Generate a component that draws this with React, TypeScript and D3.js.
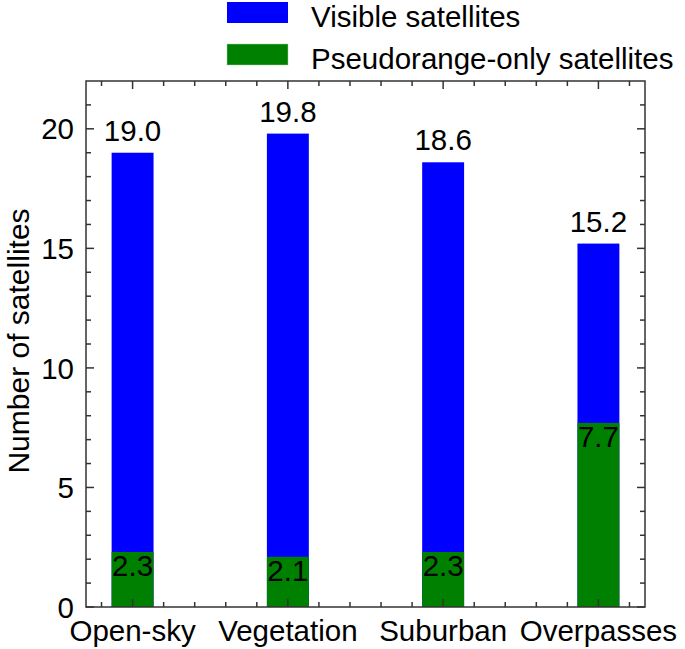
import React from "react";
import * as d3 from "d3";

const categories = ["Open-sky", "Vegetation", "Suburban", "Overpasses"];
const visible = [19.0, 19.8, 18.6, 15.2];
const pseudorangeOnly = [2.3, 2.1, 2.3, 7.7];
const yTicks = [0, 5, 10, 15, 20];
const legendLabels = ["Visible satellites", "Pseudorange-only satellites"];
const colors = ["#0000ff", "#008000"];

const W = 685;
const H = 649;
const m = { left: 86, right: 40, top: 81, bottom: 42 };
const FONT = "'Liberation Sans', Arial, sans-serif";
const FS = 29.5;

export default function App() {
  const x = d3.scaleLinear().domain([-0.3, 3.3]).range([m.left, W - m.right]);
  const y = d3.scaleLinear().domain([0, 22]).range([H - m.bottom, m.top]);
  const barW = x(0.27) - x(0);
  const axisColor = "#333";
  const majorLen = 8;
  const minorLen = 5;

  const xMinor = d3.range(-2, 33).map((i) => i / 10).filter((v) => Math.round(v * 10) % 2 === 0 && Math.abs(v - Math.round(v)) > 1e-6);
  const xMajor = categories.map((_, i) => i);
  const yMinor = d3.range(1, 22).filter((v) => v % 5 !== 0);

  const x0 = x.range()[0], x1 = x.range()[1];
  const y0 = y.range()[0], y1 = y.range()[1];

  return (
    <svg width={W} height={H} style={{ position: "absolute", left: 0, top: 0, background: "#fff" }} fontFamily={FONT}>
      {/* legend */}
      {legendLabels.map((l, i) => (
        <g key={l}>
          <rect x={227} y={2 + i * 42} width={61} height={21} fill={colors[i]} stroke="#9fd39f" strokeOpacity={i === 1 ? 0.6 : 0} strokeWidth={0.8} />
          <text x={311} y={26.5 + i * 42} fontSize={FS} fill="#000">{l}</text>
        </g>
      ))}

      {/* bars */}
      {categories.map((c, i) => (
        <g key={c}>
          <rect x={x(i) - barW / 2} y={y(visible[i])} width={barW} height={y(0) - y(visible[i])} fill={colors[0]} />
          <rect x={x(i) - barW / 2} y={y(pseudorangeOnly[i])} width={barW} height={y(0) - y(pseudorangeOnly[i])} fill={colors[1]} />
          <text x={x(i)} y={y(visible[i]) - 12} textAnchor="middle" fontSize={FS} fill="#000">{visible[i].toFixed(1)}</text>
          <text x={x(i)} y={y(pseudorangeOnly[i]) + 24} textAnchor="middle" fontSize={FS} fill="#000">{pseudorangeOnly[i].toFixed(1)}</text>
        </g>
      ))}

      {/* frame */}
      <rect x={x0} y={y1} width={x1 - x0} height={y0 - y1} fill="none" stroke={axisColor} strokeWidth={1.5} />

      {/* x ticks bottom & top */}
      {xMajor.map((v) => (
        <g key={"xM" + v}>
          <line x1={x(v)} x2={x(v)} y1={y0} y2={y0 - majorLen} stroke={axisColor} strokeWidth={1.5} />
          <line x1={x(v)} x2={x(v)} y1={y1} y2={y1 + majorLen} stroke={axisColor} strokeWidth={1.5} />
        </g>
      ))}
      {xMinor.map((v) => (
        <g key={"xm" + v}>
          <line x1={x(v)} x2={x(v)} y1={y0} y2={y0 - minorLen} stroke={axisColor} strokeWidth={1.5} />
          <line x1={x(v)} x2={x(v)} y1={y1} y2={y1 + minorLen} stroke={axisColor} strokeWidth={1.5} />
        </g>
      ))}

      {/* y ticks left & right */}
      {yTicks.map((v) => (
        <g key={"yM" + v}>
          <line x1={x0} x2={x0 + majorLen} y1={y(v)} y2={y(v)} stroke={axisColor} strokeWidth={1.5} />
          <line x1={x1} x2={x1 - majorLen} y1={y(v)} y2={y(v)} stroke={axisColor} strokeWidth={1.5} />
          <text x={x0 - 12} y={y(v)} dy="0.36em" textAnchor="end" fontSize={FS} fill="#000">{v}</text>
        </g>
      ))}
      {yMinor.map((v) => (
        <g key={"ym" + v}>
          <line x1={x0} x2={x0 + minorLen} y1={y(v)} y2={y(v)} stroke={axisColor} strokeWidth={1.5} />
          <line x1={x1} x2={x1 - minorLen} y1={y(v)} y2={y(v)} stroke={axisColor} strokeWidth={1.5} />
        </g>
      ))}

      {/* category labels */}
      {categories.map((c, i) => (
        <text key={"cl" + c} x={x(i)} y={y0 + 34} textAnchor="middle" fontSize={FS} fill="#000">{c}</text>
      ))}

      {/* y axis title */}
      <text transform={`translate(28.5,341) rotate(-90)`} textAnchor="middle" fontSize={30} fill="#000">Number of satellites</text>
    </svg>
  );
}
